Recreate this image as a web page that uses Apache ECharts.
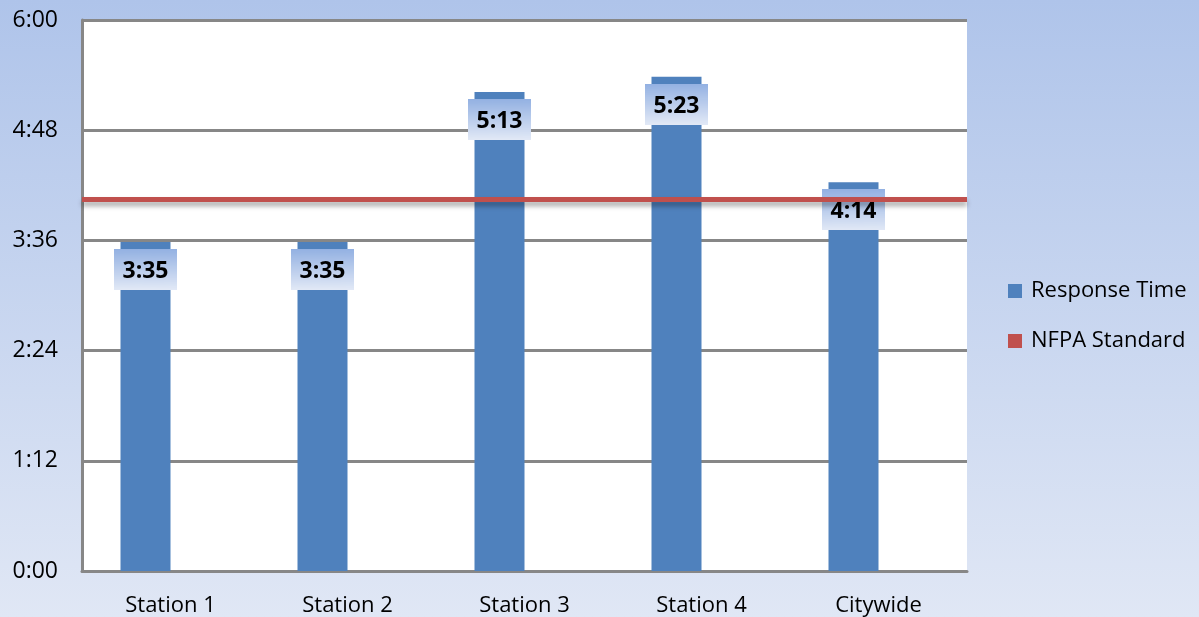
<!DOCTYPE html>
<html>
<head>
<meta charset="utf-8">
<script src="https://cdn.jsdelivr.net/npm/echarts@6/dist/echarts.min.js"></script>
<style>
html,body{margin:0;padding:0;}
#chart{width:1199px;height:617px;}
</style>
</head>
<body>
<div id="chart"></div>
<script>
// Data (seconds)
const categories = ['Station 1', 'Station 2', 'Station 3', 'Station 4', 'Citywide'];
const responseTimes = [215, 215, 313, 323, 254]; // 3:35, 3:35, 5:13, 5:23, 4:14
const nfpaStandard = 243;
const yTicks = [0, 72, 144, 216, 288, 360]; // 0:00 ... 6:00

function fmt(s) {
  const m = Math.floor(s / 60);
  const sec = Math.round(s - m * 60);
  return m + ':' + (sec < 10 ? '0' : '') + sec;
}

// gradient image for data label boxes
const gc = document.createElement('canvas');
gc.width = 4; gc.height = 40;
const gctx = gc.getContext('2d');
const g = gctx.createLinearGradient(0, 0, 0, 40);
g.addColorStop(0, '#93b1e2');
g.addColorStop(1, '#e2e9f6');
gctx.fillStyle = g;
gctx.fillRect(0, 0, 4, 40);

const font = 'Open Sans';
const chart = echarts.init(document.getElementById('chart'));
chart.setOption({
  animation: false,
  backgroundColor: {
    type: 'linear', x: 0, y: 0, x2: 0, y2: 1,
    colorStops: [{offset: 0, color: '#afc4ea'}, {offset: 1, color: '#e0e7f5'}]
  },
  textStyle: {fontFamily: font},
  grid: {
    left: 82, right: 232, top: 20, bottom: 46,
    show: true, backgroundColor: '#ffffff', borderWidth: 0
  },
  legend: {
    orient: 'vertical',
    left: 1008, top: 280,
    padding: 0,
    itemWidth: 14, itemHeight: 14, itemGap: 28,
    icon: 'rect',
    data: ['Response Time', 'NFPA Standard'],
    textStyle: {fontFamily: font, fontSize: 22, color: '#000', lineHeight: 20, padding: [0, 0, 0, 4]}
  },
  xAxis: {
    type: 'category',
    data: categories,
    axisLine: {lineStyle: {color: '#878787', width: 3}},
    axisTick: {show: false},
    axisLabel: {color: '#000', fontSize: 22, fontFamily: font, margin: 24}
  },
  yAxis: {
    type: 'value',
    min: 0, max: 360, interval: 72,
    axisLine: {show: true, lineStyle: {color: '#878787', width: 3}},
    axisTick: {show: false},
    axisLabel: {
      color: '#000', fontSize: 23, fontFamily: font, margin: 24,
      formatter: v => yTicks.includes(v) ? fmt(v) : ''
    },
    splitLine: {lineStyle: {color: '#878787', width: 3}}
  },
  series: [
    {
      name: 'Response Time',
      type: 'bar',
      data: responseTimes,
      barWidth: 50,
      barGap: '0%',
      itemStyle: {color: '#4f81bd'},
      label: {
        show: true,
        position: 'insideTop',
        distance: 7,
        formatter: p => fmt(p.value),
        color: '#000',
        fontFamily: font,
        fontWeight: 'bold',
        fontSize: 23,
        lineHeight: 23,
        padding: [11, 8, 7, 8],
        backgroundColor: {image: gc}
      },
      z: 2
    },
    {
      name: 'NFPA Standard',
      type: 'bar',
      data: categories.map(() => '-'),
      barWidth: 50,
      itemStyle: {color: '#c0504d'},
      markLine: {
        silent: true,
        symbol: 'none',
        label: {show: false},
        lineStyle: {
          color: '#c0504d', width: 5, type: 'solid',
          shadowColor: 'rgba(0,0,0,0.35)', shadowBlur: 5, shadowOffsetY: 4
        },
        data: [{yAxis: nfpaStandard}]
      },
      z: 3
    }
  ]
});
</script>
</body>
</html>
